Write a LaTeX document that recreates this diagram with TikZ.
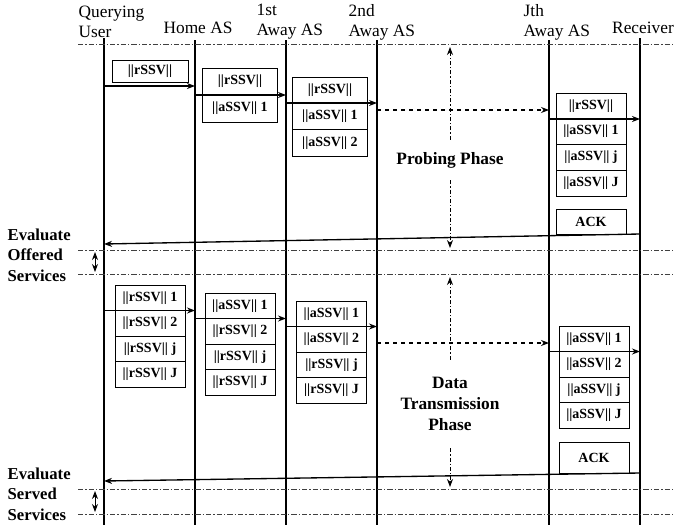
\documentclass[tikz,border=0pt]{standalone}
\usepackage{fontspec}
\setmainfont{Liberation Serif}
\usetikzlibrary{arrows.meta}
\begin{document}
\begin{tikzpicture}[x=0.75pt, y=-0.75pt, >={Stealth[length=6pt,width=4.5pt]},
    life/.style={line width=0.8pt},
    sep/.style={black!75, line width=0.6pt, dash pattern=on 4pt off 1.5pt on 1pt off 1.5pt},
    msg/.style={->, line width=1pt},
    fwd/.style={->, dashed, line width=0.8pt},
    phasearr/.style={->, line width=0.6pt, dash pattern=on 3pt off 1.5pt on 1pt off 1.5pt},
    cell/.style={draw, line width=0.6pt, inner sep=0pt, minimum width=52.5pt, minimum height=19.1pt,
        font=\fontsize{10.5}{12}\selectfont\bfseries},
    hdr/.style={align=left, font=\fontsize{13}{15}\selectfont},
    side/.style={align=left, anchor=west, font=\fontsize{12.5}{15.5}\selectfont\bfseries},
    phase/.style={align=center, inner sep=9pt, font=\fontsize{13}{15.75}\selectfont\bfseries}]

    \useasboundingbox (0,0) rectangle (674,525);

    % lifelines
    \coordinate (U) at (104,38);
    \coordinate (H) at (195,40);
    \coordinate (A1) at (286,40);
    \coordinate (A2) at (377,40);
    \coordinate (AJ) at (549,40);
    \coordinate (R) at (640,38);
    \foreach \c in {U,H,A1,AJ,R}
        \draw[life] (\c) -- (\c |- 0,525);
    \draw[line width=1.2pt] (A2) -- (A2 |- 0,525);

    \foreach \y in {44,250,274,489,514}
        \draw[sep] (78,\y) -- (674,\y);

    \node[hdr, anchor=west] (quser) at (74,22) {Querying\\User};
    \node[hdr] (home) at (198,28) {Home AS};
    \node[hdr, anchor=west] (away1) at (252,22) {1st\\Away AS};
    \node[hdr, anchor=west] (away2) at (344,22) {2nd\\Away AS};
    \node[hdr, anchor=west] (awayj) at (519,22) {Jth\\Away AS};
    \node[hdr] (recv) at (643,28) {Receiver};

    % probing phase
    \node[cell, minimum width=57pt, minimum height=16pt] (pu) at (150,71.5) {||rSSV||};
    \foreach \t [count=\i] in {{||rSSV||},{||aSSV|| 1}}
        \node[cell, minimum width=56pt, minimum height=20.25pt] (ph\i) at (240,{68+(\i-0.5)*27}) {\t};
    \foreach \t [count=\i] in {{||rSSV||},{||aSSV|| 1},{||aSSV|| 2}}
        \node[cell, minimum width=56pt, minimum height=19.75pt] (pa\i) at (330,{77+(\i-0.5)*26.3}) {\t};
    \foreach \t [count=\i] in {{||rSSV||},{||aSSV|| 1},{||aSSV|| j},{||aSSV|| J}}
        \node[cell, minimum height=19.3pt] (pj\i) at (591,{93+(\i-0.5)*25.75}) {\t};
    \node[cell, minimum height=18.75pt] (pack) at (591,221.5) {ACK};

    \draw[msg] (U |- 0,86) -- (H |- 0,86);
    \draw[msg] (H |- 0,95) -- (A1 |- 0,95);
    \draw[msg] (A1 |- 0,103) -- (A2 |- 0,103);
    \draw[fwd] (A2 |- 0,110) -- (AJ |- 0,110);
    \draw[msg] (AJ |- 0,119) -- (R |- 0,119);
    \draw[msg] (R |- 0,234) -- (U |- 0,244);

    \node[phase] (probe) at (450,160) {Probing Phase};
    \draw[phasearr] (probe.north) -- (probe |- 0,47);
    \draw[phasearr] (probe.south) -- (probe |- 0,248);

    % data transmission phase
    \foreach \t [count=\i] in {{||rSSV|| 1},{||rSSV|| 2},{||rSSV|| j},{||rSSV|| J}}
        \node[cell] (du\i) at (150,{285+(\i-0.5)*25.5}) {\t};
    \foreach \t [count=\i] in {{||aSSV|| 1},{||rSSV|| 2},{||rSSV|| j},{||rSSV|| J}}
        \node[cell] (dh\i) at (240,{293+(\i-0.5)*25.5}) {\t};
    \foreach \t [count=\i] in {{||aSSV|| 1},{||aSSV|| 2},{||rSSV|| j},{||rSSV|| J}}
        \node[cell] (da\i) at (331.5,{301+(\i-0.5)*25.5}) {\t};
    \foreach \t [count=\i] in {{||aSSV|| 1},{||aSSV|| 2},{||aSSV|| j},{||aSSV|| J}}
        \node[cell] (dj\i) at (594,{326+(\i-0.5)*25.5}) {\t};
    \node[cell, minimum height=23.25pt] (dack) at (594,457.5) {ACK};

    \draw[msg] (U |- 0,310.5) -- (H |- 0,310.5);
    \draw[msg] (H |- 0,318.5) -- (A1 |- 0,318.5);
    \draw[msg] (A1 |- 0,326.5) -- (A2 |- 0,326.5);
    \draw[fwd] (A2 |- 0,343) -- (AJ |- 0,343);
    \draw[msg] (AJ |- 0,351.5) -- (R |- 0,351.5);
    \draw[msg] (R |- 0,473) -- (U |- 0,481);

    \node[phase, inner sep=13pt] (data) at (450,404) {Data\\Transmission\\Phase};
    \draw[phasearr] (data.north) -- (data |- 0,277);
    \draw[phasearr] (data.south) -- (data |- 0,487);

    % evaluation steps
    \node[side] (evoff) at (3,255) {Evaluate\\Offered\\Services};
    \node[side] (evserv) at (3,494) {Evaluate\\Served\\Services};
    \coordinate (o1) at (95,252);
    \coordinate (o2) at (95,272);
    \coordinate (s1) at (95,491);
    \coordinate (s2) at (95,512);
    \draw[<->, line width=0.7pt] (o1) -- (o2);
    \draw[<->, line width=0.7pt] (s1) -- (s2);
\end{tikzpicture}
\end{document}
